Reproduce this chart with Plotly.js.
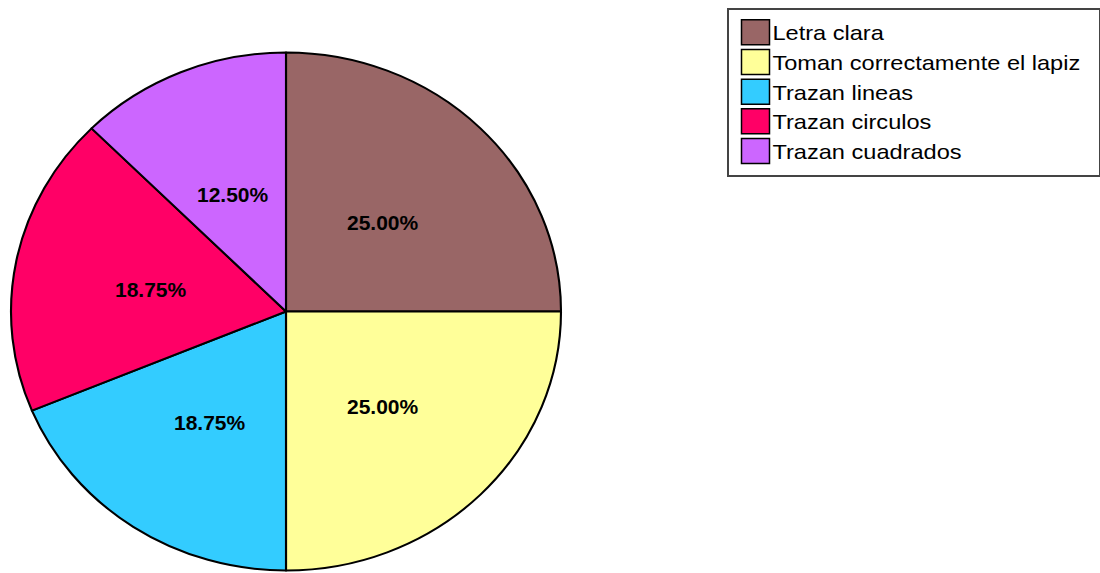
<!DOCTYPE html>
<html>
<head>
<meta charset="utf-8">
<script src="https://cdn.plot.ly/plotly-3.0.1.min.js"></script>
<style>html,body{margin:0;padding:0;background:#fff;}#chart{width:1100px;height:573px;}</style>
</head>
<body>
<div id="chart"></div>
<script>
const categories = ["Letra clara", "Toman correctamente el lapiz", "Trazan lineas", "Trazan circulos", "Trazan cuadrados"];
const counts = [4, 4, 3, 3, 2];
const colors = ["#996666", "#FFFF99", "#33CCFF", "#FF0066", "#CC66FF"];

const W = 1100, H = 573;
const cx = 286, cy = 311.5, rx = 275, ry = 259;
const stretch = rx / ry;

const total = counts.reduce((a, b) => a + b, 0);
let cum = 0;
const annotations = counts.map(function (v) {
  const mid = (cum + v / 2) / total * 2 * Math.PI;
  cum += v;
  return {
    xref: "paper", yref: "paper",
    x: (cx + 0.5 * rx * Math.sin(mid)) / W,
    y: 1 - (cy - 0.5 * ry * Math.cos(mid)) / H,
    xanchor: "center", yanchor: "middle", yshift: -3,
    showarrow: false,
    text: (v / total * 100).toFixed(2) + "%",
    font: { family: "Liberation Sans, Arial, sans-serif", size: 21, color: "#000", weight: "bold" }
  };
});

const trace = {
  type: "pie",
  labels: categories,
  values: counts,
  sort: false,
  direction: "clockwise",
  rotation: 0,
  marker: { colors: colors, line: { color: "#000", width: 2 } },
  textinfo: "none",
  hoverinfo: "none",
  domain: { x: [(cx - ry) / W, (cx + ry) / W], y: [1 - (cy + ry) / H, 1 - (cy - ry) / H] }
};

const layout = {
  width: W, height: H,
  margin: { l: 0, r: 0, t: 0, b: 0 },
  paper_bgcolor: "#fff",
  showlegend: true,
  annotations: annotations,
  legend: {
    x: 727 / W, xanchor: "left",
    y: 1 - 11 / H, yanchor: "top",
    bordercolor: "#444", borderwidth: 1.5,
    bgcolor: "#fff",
    font: { family: "Liberation Sans, Arial, sans-serif", size: 20.5, color: "#000" },
    itemwidth: 34,
    traceorder: "normal"
  }
};

Plotly.newPlot("chart", [trace], layout, { staticPlot: true, displayModeBar: false }).then(function () {
  const pl = document.querySelector("#chart .pielayer");
  if (pl) pl.setAttribute("transform", "translate(" + cx + ",0) scale(" + stretch + ",1) translate(" + (-cx) + ",0)");
  document.querySelectorAll("#chart .legendpoints path").forEach(function (p) {
    p.setAttribute("d", "M14,12.5V-12.5H-14V12.5Z");
    p.setAttribute("transform", "translate(27,0)");
    p.style.strokeWidth = "1.5px";
    p.style.stroke = "#000";
  });
  document.querySelectorAll("#chart .legend .legendtext").forEach(function (t) {
    const x0 = parseFloat(t.getAttribute("x")) || 44;
    t.setAttribute("transform", "translate(" + x0 + ",0) scale(1.15,1) translate(" + (-x0) + ",0)");
  });
  document.querySelectorAll("#chart .legend [clip-path]").forEach(function (g) {
    g.removeAttribute("clip-path");
  });
  const bg = document.querySelector("#chart .legend rect.bg");
  if (bg) {
    const y0 = parseFloat(bg.getAttribute("y")) || 0;
    bg.setAttribute("y", y0 - 3);
    bg.setAttribute("width", 372);
    bg.setAttribute("height", 167);
  }
});
</script>
</body>
</html>
